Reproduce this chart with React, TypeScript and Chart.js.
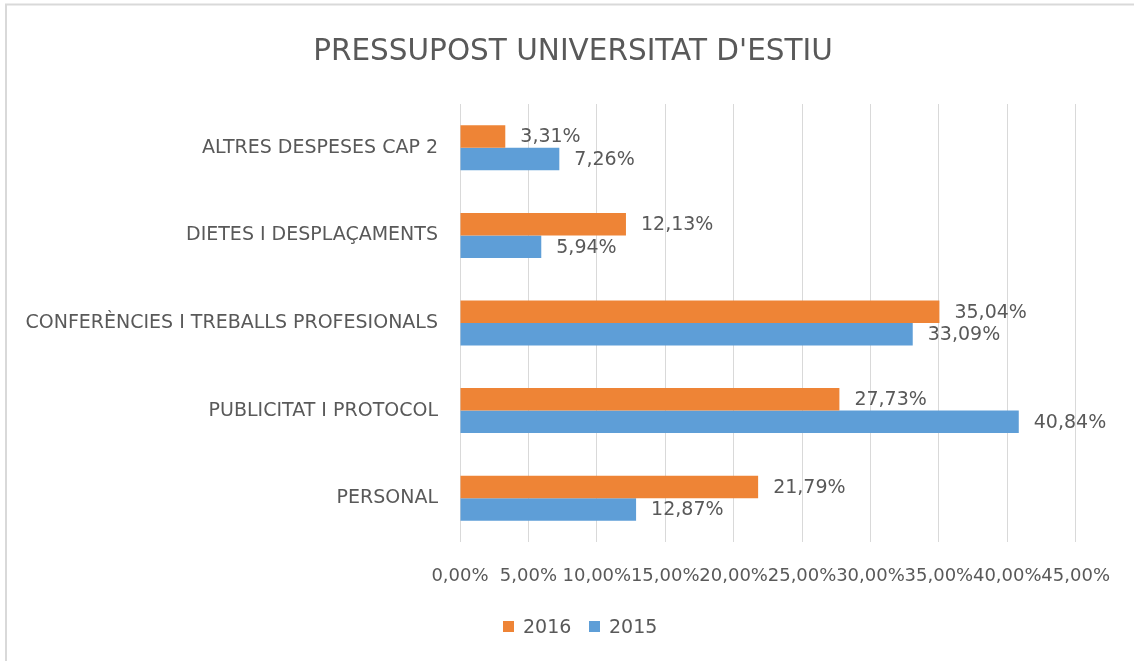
import React, { useEffect, useRef } from "react";
import { Chart, registerables } from "chart.js";

Chart.register(...registerables);

const categories = [
  "ALTRES DESPESES CAP 2",
  "DIETES I DESPLAÇAMENTS",
  "CONFERÈNCIES I TREBALLS PROFESIONALS",
  "PUBLICITAT I PROTOCOL",
  "PERSONAL",
];
const values2016 = [3.31, 12.13, 35.04, 27.73, 21.79];
const values2015 = [7.26, 5.94, 33.09, 40.84, 12.87];
const seriesNames = ["2016", "2015"];
const seriesColors = ["#EE8436", "#5E9ED7"];
const chartTitle = "PRESSUPOST UNIVERSITAT D'ESTIU";
const xMin = 0;
const xMax = 45;
const xStep = 5;

const FONT = "'DejaVu Sans', sans-serif";
const TEXT = "#595959";
const GRID = "#d9d9d9";

const fmt = (v: number) => v.toFixed(2).replace(".", ",") + "%";

const decor = {
  id: "decor",
  beforeDraw(chart: any) {
    const ctx = chart.ctx;
    ctx.save();
    ctx.fillStyle = "#ffffff";
    ctx.fillRect(0, 0, chart.width, chart.height);
    ctx.strokeStyle = GRID;
    ctx.lineWidth = 2;
    ctx.strokeRect(6, 4.5, chart.width + 50, chart.height + 50);
    ctx.restore();
  },
  afterDatasetsDraw(chart: any) {
    const ctx = chart.ctx;
    ctx.save();
    ctx.font = `19px ${FONT}`;
    ctx.fillStyle = TEXT;
    ctx.textAlign = "left";
    ctx.textBaseline = "middle";
    chart.data.datasets.forEach((ds: any, i: number) => {
      const meta = chart.getDatasetMeta(i);
      meta.data.forEach((el: any, j: number) => {
        ctx.fillText(fmt(ds.data[j]), el.x + 15, el.y + 1);
      });
    });
    ctx.restore();
  },
  afterDraw(chart: any) {
    const ctx = chart.ctx;
    ctx.save();
    ctx.fillStyle = TEXT;
    ctx.font = `29.5px ${FONT}`;
    ctx.textAlign = "center";
    ctx.textBaseline = "alphabetic";
    ctx.fillText(chartTitle, 573, 60);

    ctx.font = `19px ${FONT}`;
    ctx.textAlign = "left";
    const legendX = [503, 589];
    seriesNames.forEach((name, i) => {
      ctx.fillStyle = seriesColors[i];
      ctx.fillRect(legendX[i], 621, 11, 11);
      ctx.fillStyle = TEXT;
      ctx.fillText(name, legendX[i] + 20, 633);
    });
    ctx.restore();
  },
};

export default function App() {
  const ref = useRef<HTMLCanvasElement | null>(null);

  useEffect(() => {
    document.body.style.margin = "0";
    const canvas = ref.current;
    if (!canvas) return;
    const chart = new Chart(canvas, {
      type: "bar",
      data: {
        labels: categories,
        datasets: [
          {
            label: seriesNames[0],
            data: values2016,
            backgroundColor: seriesColors[0],
            categoryPercentage: 0.514,
            barPercentage: 1,
          },
          {
            label: seriesNames[1],
            data: values2015,
            backgroundColor: seriesColors[1],
            categoryPercentage: 0.514,
            barPercentage: 1,
          },
        ],
      },
      options: {
        indexAxis: "y",
        animation: false,
        responsive: false,
        devicePixelRatio: 1,
        layout: { padding: { top: 104, right: 57, left: 0, bottom: 0 } },
        plugins: {
          legend: { display: false },
          title: { display: false },
          tooltip: { enabled: false },
        },
        scales: {
          x: {
            min: xMin,
            max: xMax,
            afterFit: (s: any) => {
              s.height = 119;
            },
            grid: { color: GRID, lineWidth: 1, drawTicks: false },
            border: { display: false },
            ticks: {
              stepSize: xStep,
              autoSkip: false,
              maxRotation: 0,
              minRotation: 0,
              padding: 24,
              color: TEXT,
              font: { family: FONT, size: 18 },
              callback: (v: any) => fmt(Number(v)),
            },
          },
          y: {
            afterFit: (s: any) => {
              s.width = 460;
            },
            grid: { display: false, drawTicks: false },
            border: { display: false },
            ticks: {
              padding: 22,
              color: TEXT,
              font: { family: FONT, size: 19 },
            },
          },
        },
      },
      plugins: [decor],
    } as any);
    return () => chart.destroy();
  }, []);

  return (
    <div style={{ width: 1134, height: 661 }}>
      <canvas ref={ref} width={1134} height={661} />
    </div>
  );
}
